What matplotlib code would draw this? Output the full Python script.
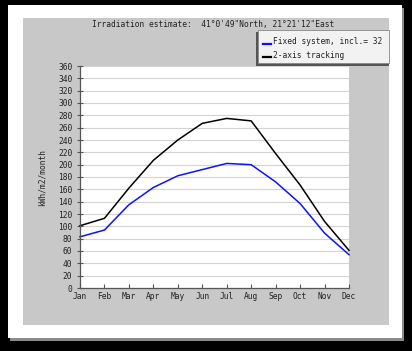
import matplotlib
matplotlib.use("Agg")
import matplotlib.pyplot as plt
from matplotlib.patches import Rectangle

# monthly irradiation, kWh/m2/month
months = ["Jan", "Feb", "Mar", "Apr", "May", "Jun",
          "Jul", "Aug", "Sep", "Oct", "Nov", "Dec"]
fixed = [83, 94, 135, 163, 182, 192, 202, 200, 172, 137, 89, 54]
tracking = [101, 113, 162, 207, 240, 267, 275, 271, 218, 167, 108, 61]
yticks = list(range(0, 361, 20))

title = "Irradiation estimate:  41\u00b00'49\"North, 21\u00b021'12\"East"
legend_labels = ["Fixed system, incl.= 32", "2-axis tracking"]
ylabel = "kWh/m2/month"

W, H = 412, 351
FONT = "DejaVu Sans Mono"
FS = 5.7


def px_rect(x0, y0, x1, y1, z=-1, **kw):
    # rectangle given in image pixels (origin top-left)
    return Rectangle((x0 / W, 1 - y1 / H), (x1 - x0) / W, (y1 - y0) / H,
                     transform=fig.transFigure, zorder=z, **kw)


fig = plt.figure(figsize=(W / 100, H / 100), dpi=100)
fig.patch.set_facecolor("black")

# white frame, its shadow, and the grey panel
fig.patches.append(px_rect(10, 8, 404, 341, z=-3, facecolor="#8a8a8a", edgecolor="none"))
fig.patches.append(px_rect(8, 5, 402, 338, z=-2, facecolor="white", edgecolor="none"))
fig.patches.append(px_rect(23, 18, 389, 325, z=-1, facecolor="#c8c8c8", edgecolor="none"))

fig.text(213 / W, 1 - 24 / H, title, ha="center", va="center",
         family=FONT, fontsize=FS, color="#222222")

ax = fig.add_axes([80 / W, 1 - 288 / H, (349 - 80) / W, (288 - 66) / H])
ax.set_facecolor("white")
x = list(range(len(months)))
ax.plot(x, fixed, color="#1010ff", lw=1.1, clip_on=False)
ax.plot(x, tracking, color="black", lw=1.1, clip_on=False)

ax.set_xlim(0, 11)
ax.set_ylim(0, 360)
ax.set_xticks(x)
ax.set_xticklabels(months)
ax.set_yticks(yticks)
ax.grid(axis="y", color="#d4d4d4", lw=0.8)
ax.set_axisbelow(True)
for s in ["top", "right"]:
    ax.spines[s].set_visible(False)
for s in ["left", "bottom"]:
    ax.spines[s].set_color("#555555")
    ax.spines[s].set_linewidth(0.9)
ax.tick_params(axis="x", direction="in", length=3, width=0.8, color="#555555",
               pad=3, labelsize=FS, labelcolor="#222222")
ax.tick_params(axis="y", direction="inout", length=5, width=0.8, color="#555555",
               pad=3, labelsize=FS, labelcolor="#222222")
for lab in ax.get_xticklabels() + ax.get_yticklabels():
    lab.set_family(FONT)
ax.set_ylabel(ylabel, family=FONT, fontsize=FS, color="#222222", labelpad=8)

# legend box with drop shadow
fig.patches.append(px_rect(256, 32, 389, 66, z=2, facecolor="#555555", edgecolor="none"))
fig.patches.append(px_rect(258, 30, 389, 63, z=3, facecolor="#f2f2f2", edgecolor="#888888", lw=0.6))
for i, (lab, col) in enumerate(zip(legend_labels, ["#1010ff", "black"])):
    yy = 1 - (42 + 13 * i) / H
    fig.add_artist(plt.Line2D([263 / W, 271 / W], [yy - 1.5 / H, yy - 1.5 / H],
                              color=col, lw=1.6, transform=fig.transFigure, zorder=4))
    fig.text(273 / W, yy, lab, ha="left", va="center", zorder=4,
             family=FONT, fontsize=FS, color="#222222")

fig.savefig("out.png", dpi=100, facecolor="black")
